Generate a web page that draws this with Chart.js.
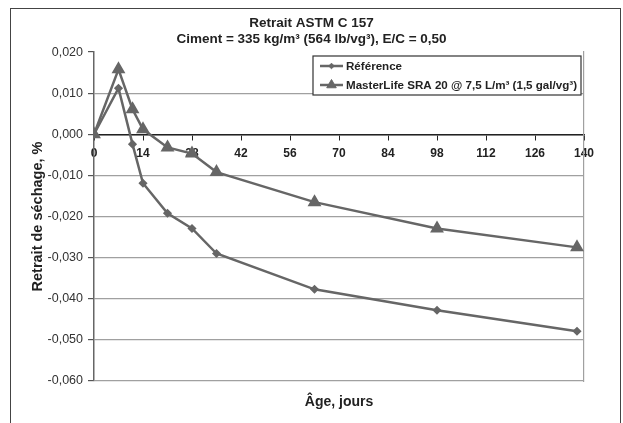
<!DOCTYPE html>
<html>
<head>
<meta charset="utf-8">
<script src="https://cdn.jsdelivr.net/npm/chart.js@4.4.1/dist/chart.umd.min.js"></script>
<style>
  html, body { margin: 0; padding: 0; background: #fff; overflow: hidden; }
  #frame { position: absolute; left: 10px; top: 8px; width: 611px; height: 440px; border: 1.5px solid #444; box-sizing: border-box; }
  canvas { position: absolute; left: 0; top: 0; }
</style>
</head>
<body>
<div id="frame"></div>
<canvas id="chart" width="623" height="423"></canvas>
<script>
// Age in days
const days = [0, 7, 11, 14, 21, 28, 35, 63, 98, 138]
// Drying shrinkage, %
const reference = [0, 0.0112, -0.0024, -0.0119, -0.0192, -0.0229, -0.029, -0.0377, -0.0428, -0.0479]
const masterLife = [0, 0.0158, 0.0061, 0.0012, -0.0032, -0.0047, -0.0092, -0.0165, -0.0229, -0.0275]

const seriesLabels = ["Référence", "MasterLife SRA 20 @ 7,5 L/m³ (1,5 gal/vg³)"]
const titleLines = ["Retrait ASTM C 157", "Ciment = 335 kg/m³ (564 lb/vg³), E/C = 0,50"]
const xTitle = "Âge, jours"
const yTitle = "Retrait de séchage, %"

const xMin = 0, xMax = 140, xStep = 14
const yMin = -0.06, yMax = 0.02, yStep = 0.01

const SANS = "'Liberation Sans', Arial, sans-serif"
const LINE = "#666666"

const toPoints = (values) => days.map((d, i) => ({ x: d, y: values[i] }))

// Legend box drawn inside the plot, top right, like the original
const boxLegend = {
  id: "boxLegend",
  afterDatasetsDraw(chart) {
    const { ctx } = chart
    const left = 313, top = 56, width = 268, height = 39
    ctx.save()
    ctx.fillStyle = "#fff"
    ctx.fillRect(left, top, width, height)
    ctx.strokeStyle = "#333"
    ctx.lineWidth = 1.2
    ctx.strokeRect(left, top, width, height)
    chart.data.datasets.forEach((ds, i) => {
      const y = top + 10 + i * 19
      ctx.strokeStyle = ds.borderColor
      ctx.lineWidth = ds.borderWidth
      ctx.beginPath()
      ctx.moveTo(320, y)
      ctx.lineTo(343, y)
      ctx.stroke()
      ctx.fillStyle = ds.pointBackgroundColor
      ctx.strokeStyle = ds.pointBorderColor
      ctx.lineWidth = 1
      Chart.helpers.drawPoint(ctx, { pointStyle: ds.pointStyle, radius: ds.pointRadius, rotation: 0, borderWidth: 1 }, 331.5, y)
      ctx.fillStyle = "#222"
      ctx.font = "bold 11.6px " + SANS
      ctx.textBaseline = "middle"
      ctx.fillText(ds.label, 346, y + 0.5)
    })
    ctx.restore()
  },
}

const yLabel = (v) => v.toFixed(3).replace(".", ",").replace("-0,000", "0,000")

new Chart(document.getElementById("chart"), {
  type: "line",
  data: {
    datasets: [
      {
        label: seriesLabels[0],
        data: toPoints(reference),
        borderColor: LINE,
        borderWidth: 2.5,
        pointStyle: "rectRot",
        pointRadius: 2.8,
        pointBackgroundColor: LINE,
        pointBorderColor: LINE,
        tension: 0,
      },
      {
        label: seriesLabels[1],
        data: toPoints(masterLife),
        borderColor: LINE,
        borderWidth: 2.5,
        pointStyle: "triangle",
        pointRadius: 5.5,
        pointBackgroundColor: LINE,
        pointBorderColor: LINE,
        tension: 0,
      },
    ],
  },
  options: {
    responsive: false,
    animation: false,
    layout: { padding: 0 },
    plugins: {
      legend: { display: false },
      tooltip: { enabled: false },
      title: {
        display: true,
        text: titleLines,
        color: "#222",
        font: { family: SANS, size: 13.5, weight: "bold", lineHeight: 1.15 },
        padding: { top: 16, bottom: 5 },
      },
    },
    scales: {
      x: {
        type: "linear",
        position: { y: 0 },
        min: xMin,
        max: xMax,
        border: { color: "#222", width: 1.5 },
        grid: { drawOnChartArea: false, drawTicks: true, tickLength: 5, color: "#222" },
        ticks: {
          stepSize: xStep,
          padding: 7,
          color: "#222",
          maxRotation: 0,
          font: { family: SANS, size: 12, weight: "bold" },
        },
      },
      x2: {
        type: "linear",
        position: "bottom",
        min: xMin,
        max: xMax,
        grid: { display: false },
        border: { display: false },
        ticks: { display: false },
        title: {
          display: true,
          text: xTitle,
          color: "#222",
          font: { family: SANS, size: 14, weight: "bold", lineHeight: 1.1 },
          padding: { top: 0, bottom: 13 },
        },
        afterFit: (s) => { s.height = 42 },
      },
      y: {
        type: "linear",
        position: "left",
        min: yMin,
        max: yMax,
        border: { color: "#666", width: 1.5 },
        grid: {
          color: (c) => (c.tick && Math.abs(c.tick.value - yMax) < 1e-9 ? "rgba(0,0,0,0)" : "#a0a0a0"),
          tickColor: "#555",
          tickLength: 6,
          lineWidth: 1.2,
        },
        ticks: {
          stepSize: yStep,
          padding: 5,
          color: "#333",
          font: { family: SANS, size: 12.5 },
          callback: yLabel,
        },
        title: {
          display: true,
          text: yTitle,
          color: "#222",
          font: { family: SANS, size: 14.5, weight: "bold", lineHeight: 1.1 },
          padding: { top: 30, bottom: 0 },
        },
        afterFit: (s) => { s.width = 94 },
      },
      y2: {
        type: "linear",
        position: "right",
        min: yMin,
        max: yMax,
        grid: { display: false },
        border: { color: "#a0a0a0", width: 1.2 },
        ticks: { display: false },
        afterFit: (s) => { s.width = 39 },
      },
    },
  },
  plugins: [boxLegend],
})
</script>
</body>
</html>
